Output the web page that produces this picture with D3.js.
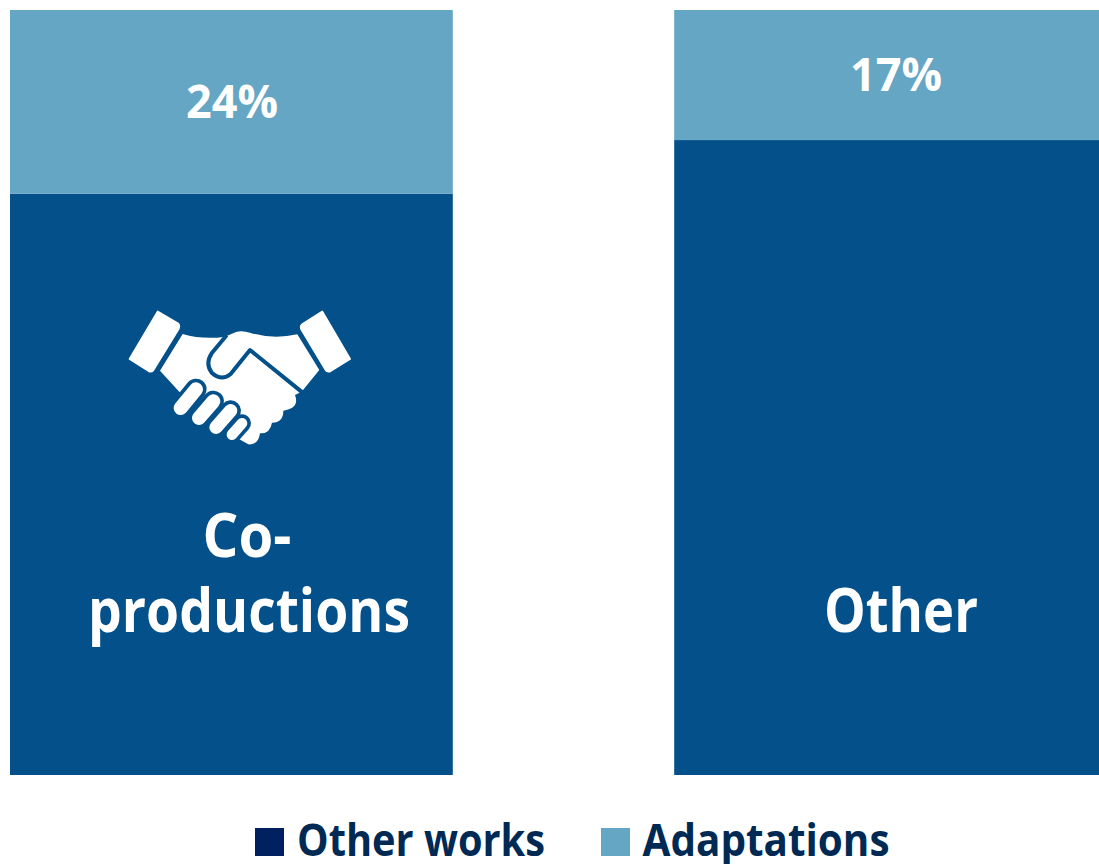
<!DOCTYPE html>
<html>
<head>
<meta charset="utf-8">
<script src="https://cdn.jsdelivr.net/npm/d3@7"></script>
<style>
    html, body { margin: 0; padding: 0; background: #fff; overflow: hidden; }
    text { font-family: "Open Sans", sans-serif; font-weight: 700; }
</style>
</head>
<body>
<div id="chart"></div>
<script>
const categories = ["Co-productions", "Other"];
const adaptations = [24, 17];
const otherWorks = [76, 83];
const percentLabels = ["24%", "17%"];
const legendLabels = ["Other works", "Adaptations"];

const width = 1099;
const height = 864;
const colors = { "Other works": "#03508a", "Adaptations": "#65a6c5" };
const swatchColors = { "Other works": "#002060", "Adaptations": "#65a6c5" };

const svg = d3.select("#chart").append("svg").attr("width", width).attr("height", height);

// second band runs past the window on purpose, the reference is cut off there too
const x = d3.scaleBand().domain(categories).range([10, 1117]).paddingInner(1 / 3);
const y = d3.scaleLinear().domain([0, 100]).range([775, 10]);

const rows = categories.map((c, i) => ({ category: c, "Other works": otherWorks[i], "Adaptations": adaptations[i] }));
const stack = d3.stack().keys(legendLabels)(rows);

svg.append("g")
    .selectAll("g")
    .data(stack)
    .join("g")
    .attr("fill", (s) => colors[s.key])
    .selectAll("rect")
    .data((s) => s)
    .join("rect")
    .attr("x", (d) => x(d.data.category))
    .attr("width", x.bandwidth())
    .attr("y", (d) => y(d[1]))
    .attr("height", (d) => y(d[0]) - y(d[1]));

// text squeezed to the measured width, the reference font is narrower than what is installed
function fitted(sel, txt, cx, baseline, size, len, fill) {
    sel.append("text")
        .attr("x", cx)
        .attr("y", baseline)
        .attr("text-anchor", "middle")
        .attr("font-size", size)
        .attr("fill", fill)
        .attr("textLength", len)
        .attr("lengthAdjust", "spacingAndGlyphs")
        .text(txt);
}

fitted(svg, percentLabels[0], 232, 118, 46, 92, "#fff");
fitted(svg, percentLabels[1], 896, 91, 46, 92, "#fff");
fitted(svg, "Co-", 247, 557, 60, 89, "#fff");
fitted(svg, "productions", 249, 632, 60, 322, "#fff");
fitted(svg, "Other", 901, 632, 60, 154, "#fff");

// handshake icon, traced in a 780x510 box
const icon = svg.append("g").attr("transform", "translate(110,290) scale(0.3333)");
const barBlue = colors["Other works"];

icon.append("path").attr("fill", "#fff").attr("stroke", "#fff").attr("stroke-width", 6).attr("stroke-linejoin", "round")
    .attr("d", "M143,65 L203,100 Q210,106 206,116 L130,240 Q124,247 116,243 L59,207 Z");
icon.append("path").attr("fill", "#fff").attr("stroke", "#fff").attr("stroke-width", 6).attr("stroke-linejoin", "round")
    .attr("d", "M637,65 L720,207 L662,243 Q652,247 646,238 L574,118 Q570,108 578,102 Z");

icon.append("path").attr("fill", "#fff")
    .attr("d", "M218,132 Q280,150 345,140 L378,126 Q395,120 420,128 Q490,150 562,133 L628,240 L575,305 L555,315 Q570,355 520,362 Q520,398 486,398 Q480,432 450,430 Q445,466 415,463 L392,450 L300,400 L205,302 L150,242 Z");

icon.append("path").attr("fill", "none").attr("stroke", barBlue).attr("stroke-width", 12)
    .attr("stroke-linejoin", "round")
    .attr("d", "M350,136 L305,190 Q285,220 305,248 Q335,275 362,252 L420,180 L578,308");

const fingers = [
    [212, 354, 258, 298, 42],
    [267, 384, 310, 334, 42],
    [318, 412, 362, 362, 40],
    [366, 434, 396, 400, 32]
];
fingers.forEach((f) => {
    icon.append("line").attr("x1", f[0]).attr("y1", f[1]).attr("x2", f[2]).attr("y2", f[3])
        .attr("stroke", barBlue).attr("stroke-width", f[4] + 22).attr("stroke-linecap", "round");
});
fingers.forEach((f) => {
    icon.append("line").attr("x1", f[0]).attr("y1", f[1]).attr("x2", f[2]).attr("y2", f[3])
        .attr("stroke", "#fff").attr("stroke-width", f[4]).attr("stroke-linecap", "round");
});

// legend
const legendX = [255, 601];
const legendLen = [248, 247];
const legendCx = [421, 766];
legendLabels.forEach((label, i) => {
    svg.append("rect").attr("x", legendX[i]).attr("y", 828).attr("width", 29).attr("height", 28)
        .attr("fill", swatchColors[label]);
    fitted(svg, label, legendCx[i], 856, 44, legendLen[i], "#002a54");
});
</script>
</body>
</html>
